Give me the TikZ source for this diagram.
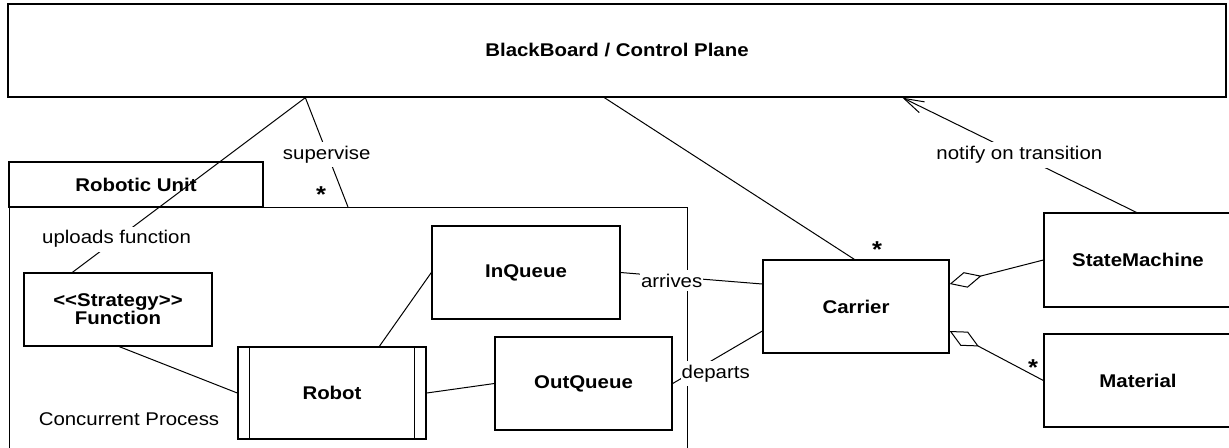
\documentclass[tikz,border=0pt]{standalone}
\usepackage{fontspec}
\setmainfont{Liberation Sans}[FakeStretch=1.11]
\usetikzlibrary{arrows.meta,calc,positioning}

\begin{document}
\begin{tikzpicture}[x=0.5pt, y=-0.5pt,
  font=\fontsize{9.2}{8.7}\selectfont,
  box/.style={draw, line width=0.65pt, inner sep=0pt, align=center, font=\fontsize{9.2}{9}\selectfont\bfseries},
  lbl/.style={fill=white, inner xsep=0.5pt, inner ysep=2pt},
  mult/.style={inner sep=0pt, font=\fontsize{11.5}{11.5}\selectfont\bfseries},
  conn/.style={line width=0.5pt},
  agg/.style={conn, {Diamond[open, length=16.5pt, width=8pt]}-},
  notify/.style={conn, -{Straight Barb[length=10pt, width=6pt]}}]
  \def\bw{94pt}
  \def\bh{46.5pt}
  \def\bar{6pt}

  \useasboundingbox (0,0) rectangle (1229,447);
  \clip (0,0) rectangle (1229,447);

  % Blackboard
  \node[box, minimum width=609pt, minimum height=46.5pt] (bb) at (617,50.5) {BlackBoard / Control Plane};

  % Robotic Unit package
  \node[box, minimum width=127pt, minimum height=22.5pt] (tab) at (136,184.5) {Robotic Unit};
  \node[box, minimum width=339pt, minimum height=130pt, anchor=north west] (unit) at (9,207) {};
  \node (conc) at (129,419) {Concurrent Process};

  % Classes inside the unit
  \node[box, minimum width=\bw, minimum height=36.5pt] (fn) at (118,309.5) {<{}<Strategy>{}>\\Function};
  \node[box, minimum width=\bw, minimum height=46pt] (robot) at (332,393) {Robot};
  \draw[line width=0.65pt] ([xshift=\bar]robot.north west) -- ([xshift=\bar]robot.south west);
  \draw[line width=0.65pt] ([xshift=-\bar]robot.north east) -- ([xshift=-\bar]robot.south east);
  \node[box, minimum width=\bw, minimum height=\bh] (inq) at (526,272.5) {InQueue};
  \node[box, minimum width=88.5pt, minimum height=\bh] (outq) at (583.5,383.5) {OutQueue};

  % Classes outside
  \node[box, minimum width=93pt, minimum height=\bh] (carrier) at (856,306.5) {Carrier};
  \node[box, minimum width=\bw, minimum height=47pt] (sm) at (1138,260) {StateMachine};
  \node[box, minimum width=\bw, minimum height=\bh] (mat) at (1138,380.5) {Material};

  % Associations to the blackboard
  \draw[conn] ([xshift=149pt]bb.south west) -- node[lbl, pos=0.5, yshift=-1pt] {supervise} ([xshift=169.5pt]unit.north west);
  \draw[conn] ([xshift=149pt]bb.south west) -- node[lbl, pos=0.81] {uploads function} ([xshift=24.5pt]fn.north west);
  \draw[conn] ([xshift=298.5pt]bb.south west) -- ([xshift=46pt]carrier.north west);
  \draw[notify] ([xshift=46.5pt]sm.north west) -- node[lbl, pos=0.5] {notify on transition} ([xshift=447.5pt]bb.south west);
  \node[mult] (m1) at (321,195) {*};
  \node[mult] (m2) at (877,250) {*};

  % Inside the unit
  \draw[conn] ([xshift=48pt]fn.south west) -- (robot.west);
  \draw[conn] ([xshift=71pt]robot.north west) -- (inq.west);
  \draw[conn] (robot.east) -- (outq.west);

  % Queues to carrier
  \draw[conn] (inq.east) -- node[lbl, pos=0.36, yshift=-2pt] {arrives} ([yshift=11.25pt]carrier.west);
  \draw[conn] (outq.east) -- node[lbl, pos=0.48, yshift=-7.5pt] {departs} ([yshift=-12.25pt]carrier.west);

  % Aggregations
  \draw[agg] ([yshift=11.25pt]carrier.east) -- (sm.west);
  \draw[agg] ([yshift=-12.25pt]carrier.east) -- (mat.west);
  \node[mult] (m3) at (1033,368) {*};

\end{tikzpicture}
\end{document}
